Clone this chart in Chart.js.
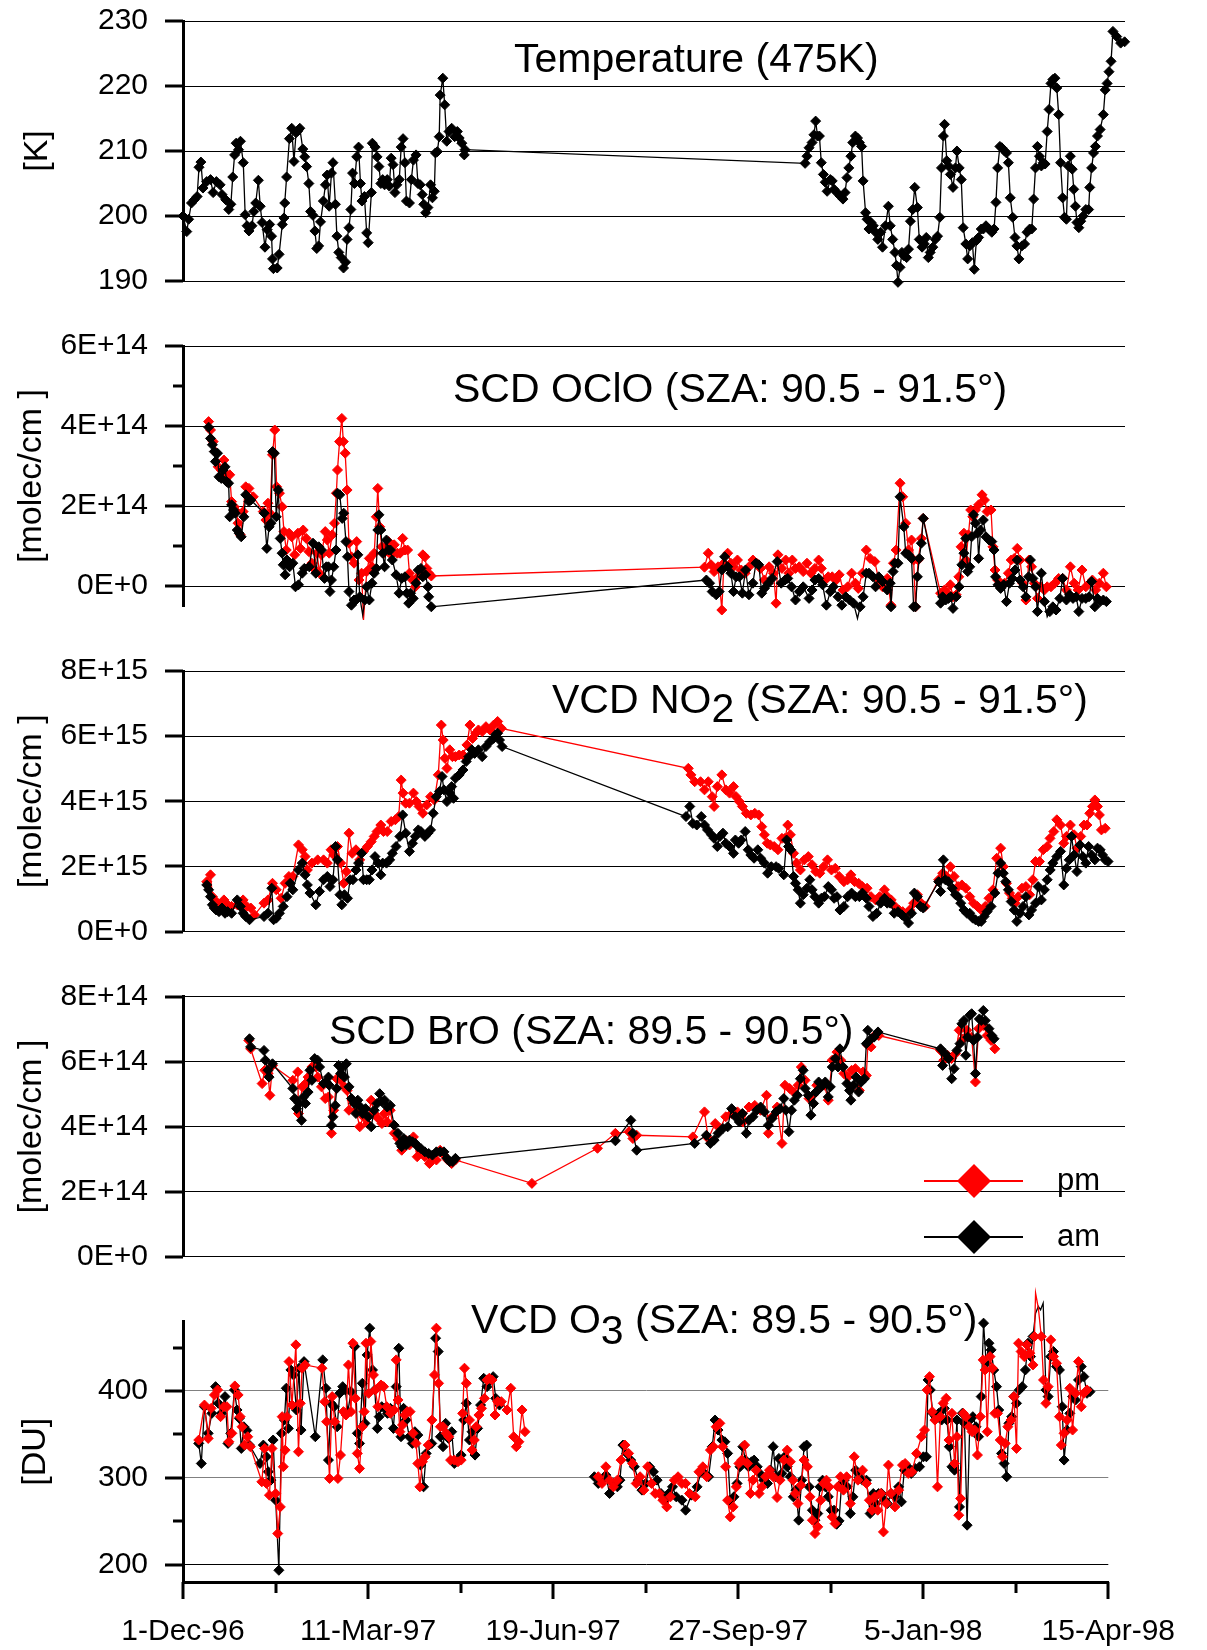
<!DOCTYPE html>
<html>
<head>
<meta charset="utf-8">
<script src="https://cdn.jsdelivr.net/npm/chart.js@4.4.1/dist/chart.umd.min.js"></script>
<style>
html, body { margin: 0; padding: 0; background: #fff; }
#wrap { position: relative; width: 1207px; height: 1650px; }
#wrap canvas { position: absolute; left: 0; top: 0; }
</style>
</head>
<body>
<div id="wrap">
<canvas id="c1" width="1207" height="1650"></canvas>
<canvas id="c2" width="1207" height="1650"></canvas>
<canvas id="c3" width="1207" height="1650"></canvas>
<canvas id="c4" width="1207" height="1650"></canvas>
<canvas id="c5" width="1207" height="1650"></canvas>
</div>
<script>
// x = days since 1-Dec-96
var xTickDays = [0, 100, 200, 300, 400, 500];
var xTickLabels = ['1-Dec-96', '11-Mar-97', '19-Jun-97', '27-Sep-97', '5-Jan-98', '15-Apr-98'];

// Temperature at 475K [K]
var temp475 = [[0,200],[2,197.6],[3,199.5],[4.5,202],[6,202.5],[7.5,203],[8.5,207.5],[9.5,208.3],[10.6,204.3],[12.6,205.3],[14.6,205.6],[16,203.6],[17.7,205.3],[19.7,204.8],[20.7,203.3],[22.7,202.5],[24.3,201],[25.4,201.8],[26.4,206],[27.4,209.4],[28.2,211.2],[29.5,210.2],[30.5,211.5],[32,208.2],[33,200.2],[34,198.5],[35,197.7],[36.6,198.5],[37.6,200.7],[38.6,202],[40,205.5],[41,201.5],[42,199],[43.5,195.2],[44.7,197.9],[46,198.7],[47,196.9],[47.5,193.4],[48,191.9],[50,192],[51,194.1],[52.7,198.7],[53.6,199.7],[54,202],[55,206],[56.5,211.9],[57.7,213.5],[58.9,208.4],[60,212.8],[61,213.1],[62,213.5],[63.6,210.3],[64.6,209.1],[65.6,207.6],[66.8,205],[67.7,200.7],[69,200.1],[70,197.7],[71,195],[72,195.4],[73,199.1],[74.5,202.3],[75.6,204.8],[76.5,206.3],[77.6,201.5],[78.8,206.6],[79.6,208.2],[80.9,201.8],[81.7,196.9],[82.7,194.4],[84,193.6],[85.2,192],[86.3,192.9],[87.1,196.4],[88.1,198.2],[89.1,201],[90,206.6],[91,205],[92.2,209.1],[93.2,210.6],[94.2,205],[95,202.3],[96.3,203],[97.5,197.4],[98.3,195.9],[100,203.6],[100.5,211.2],[102,210.6],[103,209.1],[104,207.6],[105,205],[106,205.6],[107,204.8],[108.4,205.6],[109.5,204.6],[110.5,208.9],[111.5,207.9],[112.5,203.6],[113.5,204.8],[114.8,205.6],[115.8,210.6],[116.8,211.9],[117.8,208.2],[118.6,202.3],[120.2,202],[121.2,205.6],[122.3,208.6],[123.7,209.4],[124.7,205],[125.9,204.8],[127,203.3],[127.8,201.8],[128.8,200.5],[130,201.3],[131.4,204.8],[132.4,202.8],[133.4,203.8],[134,209.7],[135,209.9],[136,212.2],[136.5,218.6],[137.9,221.2],[138.9,217.1],[140,211.5],[141.2,213],[142.6,213.5],[144.2,212.2],[145.6,213],[146.6,212],[148,211.2],[149.3,209.4],[149.7,210.2],
  [330.2,208.1],[331.2,209.2],[332.3,210.5],[333.9,211.3],[334.9,212.5],[335.8,214.6],[336.8,212.3],[337.8,212.3],[338.8,208.2],[339.9,206.4],[340.9,205.2],[341.9,203.8],[343.6,205.6],[344.6,205.4],[345.6,204.1],[347.1,203.6],[348.7,203.1],[350.3,202.6],[351.4,203.6],[352.4,205.9],[353.4,207.4],[354.5,209.2],[355.5,211.3],[356.9,212.3],[358,212],[359,211.3],[360.2,210.7],[361,205.4],[362.3,200.5],[363.1,199.5],[364.1,198],[365.2,199],[366.4,198.5],[367.6,197.5],[368.8,196.4],[370.3,197.5],[371.3,195.2],[372.9,198.5],[374.4,201.5],[375.4,198.5],[376.7,196.4],[377.9,194.4],[378.7,192.4],[379.5,189.8],[380.6,192.1],[381.6,194.4],[382.6,193.9],[384.1,193.6],[385.1,194.9],[386.1,199.2],[387.3,201],[388.4,204.4],[389.8,201.3],[390.8,196.4],[392.3,195.2],[393.5,195.7],[394.5,196.7],[395.6,193.6],[396.6,194.4],[398,195.2],[399.3,196.4],[400.5,196.9],[401.7,199.8],[402.6,207.4],[403.6,212.3],[404.2,214.1],[405.4,208.5],[406.3,207.7],[407.3,206.4],[408.7,204.4],[410,207.4],[410.8,210],[412,207.4],[413.1,205.6],[414.1,198.2],[415.5,195.7],[416.5,193.4],[417.6,195.4],[419,195.9],[420,191.8],[421.1,196.2],[422.3,196.7],[423.7,198],[424.8,198],[426.2,198.5],[427.8,198],[429.3,197.5],[430.5,198],[431.5,202.1],[432.4,207.4],[433.6,210.7],[434.6,210.5],[436.1,210],[437.1,209.7],[438.1,208.2],[439.1,202.8],[440.4,199.8],[441.6,196.7],[442.6,195.4],[443.7,193.4],[445.3,195.4],[446.7,195.7],[448,197.5],[449.4,198],[450.5,198],[451.5,202.6],[452.5,207.4],[453.5,210.7],[454.6,209.2],[455.6,207.7],[456.6,208.2],[457.6,208],[458.7,213],[459.7,216.4],[460.7,220.4],[461.7,221],[462.8,221.2],[463.8,219.7],[464.8,215.6],[465.8,208.2],[466.9,202.8],[467.9,199.8],[468.9,199.5],[469.9,207.7],[471,209.2],[472,207.2],[472.8,204.1],[473.7,201.5],[474.5,199],[475.5,198.2],[476.5,199.2],[477.8,200],[479.2,201],[480.7,201],[481.3,204.4],[482.3,207.4],[483.3,209.7],[484.3,210.7],[485.4,212.3],[486.8,213.3],[488.5,215.6],[489.5,219.4],[490.5,220.4],[491.5,222.2],[492.6,223.8],[493.6,228.4],[495.6,227.6],[497.7,226.6],[499.8,226.8]];

// SCD OClO, units of 1E+14 molec/cm2
var ocloAm = [[13.6,3.97],[14.6,3.69],[15.6,3.53],[16.6,3.36],[17.2,3.11],[18.3,3.32],[19.1,2.73],[20.3,2.69],[21.3,2.9],[22.3,2.98],[23.1,2.61],[24.2,2.57],[24.8,1.73],[25.8,2.03],[26.8,1.9],[27.8,1.82],[28.8,1.4],[29.8,1.32],[30.9,1.23],[32.3,1.73],[33.3,2.28],[35,2.11],[36,2.15],[43.1,1.82],[44.5,0.94],[45.7,1.48],[46.7,1.57],[47.5,3.36],[48.5,3.32],[49.5,1.73],[50.6,2.4],[51.6,1.19],[52.6,0.82],[53.2,0.53],[54.2,0.28],[55.2,0.65],[56.6,0.48],[58.3,0.57],[59.7,-0.02],[61.3,0.03],[63.3,0.32],[64.4,0.44],[67,0.48],[69,1.07],[70.5,0.32],[72.1,0.98],[73.5,0.9],[75.1,0.19],[76.1,0.48],[77.2,0.48],[78,-0.14],[78.8,0.15],[80,0.48],[81.2,0.9],[82,2.32],[83.2,2.28],[84.5,1.69],[85.3,1.82],[86.5,1.11],[87.3,0.73],[88.1,-0.14],[89.4,-0.48],[90.8,-0.35],[91.8,-0.35],[92.8,0.78],[93.8,-0.27],[95.4,-0.73],[96.5,-0.35],[97.5,-0.02],[98.9,-0.35],[100.3,0.07],[101.5,0.32],[102.6,0.44],[103.4,1.4],[104,1.78],[105,1.4],[106,0.82],[107,0.48],[108,1.15],[109.1,0.9],[110.1,0.9],[111.1,0.65],[113.1,0.28],[114.7,-0.18],[116.1,0.19],[117.8,0.23],[118.8,-0.18],[119.8,-0.43],[120.8,-0.18],[122.2,-0.31],[123.7,0.07],[124.9,0.4],[126.3,0.44],[127.3,0.23],[128.7,0.28],[130,-0.02],[130.4,-0.27],[131.8,-0.52],
  [277.8,0.15],[279.5,0.07],[280.9,-0.14],[283,-0.22],[284.6,-0.14],[286,0.4],[287.5,0.73],[289.1,0.48],[290.8,0.32],[292.2,-0.14],[293.6,0.23],[295.3,0.23],[296.9,-0.18],[298.6,0.4],[300.4,-0.22],[302.5,0.07],[304.1,0.57],[305.6,0.53],[307.2,-0.18],[308.6,-0.06],[310.7,0.07],[312.7,0.19],[315.4,0.61],[317.5,0.07],[319.5,0.15],[321,0.19],[323,-0.02],[325.1,-0.35],[327.1,-0.14],[329.2,-0.02],[332.3,-0.31],[333.9,-0.1],[335.4,0.15],[337.4,0.19],[339.5,0.03],[341.5,-0.48],[343.6,-0.14],[345.2,-0.02],[347.7,-0.27],[349.7,-0.48],[351.8,-0.27],[353.8,-0.35],[355.9,-0.43],[358,-0.81],[359.4,-0.52],[361,-0.27],[362.7,0.32],[364.1,0.32],[366.2,0.23],[367.6,-0.02],[369.3,0.23],[371.3,0.11],[373.8,-0.1],[375.4,0.07],[375.8,-0.52],[376.9,0.36],[377.9,0.57],[379.5,0.57],[380.6,2.23],[382.6,1.48],[383.6,0.82],[385.1,0.78],[386.7,0.69],[387.8,-0.52],[388.8,-0.52],[389.8,0.23],[390.8,0.69],[391.9,1.07],[392.9,1.69],[402.1,-0.43],[403.2,-0.27],[404.8,-0.35],[406.3,-0.31],[407.5,-0.27],[408.7,-0.56],[410.4,-0.27],[412,-0.02],[413.4,0.53],[414.5,0.82],[415.5,1.19],[416.5,0.36],[417.6,0.48],[418.6,1.23],[419.6,1.78],[420.6,1.57],[421.7,1.32],[422.3,0.69],[423.3,1.4],[424.8,1.65],[426.2,1.23],[427.8,1.15],[429.3,1.11],[430.5,0.9],[431.3,0.23],[432.6,0.03],[434,-0.06],[435.6,0.03],[437.1,-0.39],[438.7,0.07],[440.2,0.19],[441.6,0.4],[442.8,0.65],[444.3,0.15],[445.9,-0.02],[447.4,-0.27],[448.8,0.23],[449.8,0.65],[451.1,0.19],[452.5,-0.02],[453.5,-0.64],[455.6,0.32],[457.2,-0.39],[458.7,-0.77],[460.1,-0.64],[461.7,-0.52],[463.4,-0.6],[465.4,-0.31],[466.9,0.19],[468.9,-0.35],[470.6,-0.22],[472.4,-0.31],[474.1,-0.27],[475.5,-0.64],[477.2,-0.31],[479.2,-0.31],[480.9,-0.27],[482.3,0.11],[484,-0.52],[485.4,-0.31],[486.8,-0.39],[488.5,-0.35],[490.1,-0.39]];
var ocloPm = [[13.6,4.11],[14.6,3.9],[16,3.61],[17,3.36],[18.7,2.98],[20.3,2.9],[21.7,3.15],[23.1,2.78],[24.8,2.78],[25.8,2.11],[27.2,1.98],[28.4,1.86],[29.2,1.57],[30.4,1.28],[31.9,1.86],[33.3,2.48],[35,2.44],[37.3,2.23],[42.6,1.86],[44,1.65],[45.1,2.07],[46.1,1.82],[47.5,3.28],[48.7,3.9],[49.7,2.48],[51.2,2.32],[52.6,1.98],[53.6,1.36],[54.8,0.9],[56.3,1.32],[57.7,1.23],[59.3,0.78],[61,1.32],[62.3,0.94],[63.8,1.4],[65.4,1.19],[66.8,0.86],[68.4,0.57],[69.4,0.44],[71.1,0.82],[72.5,0.32],[73.5,0.78],[75.5,1.36],[76.6,1.15],[77.6,0.82],[79.2,1.28],[80.4,1.57],[81.4,2.32],[82,2.9],[83.1,3.61],[84.3,4.19],[85.1,3.61],[86.1,3.32],[87.1,2.4],[88.1,1.07],[89.4,0.73],[90.8,0.57],[92.2,1.11],[93.4,0.15],[94.8,0.32],[95.8,-0.85],[97.5,0.36],[98.9,0.69],[100.3,0.48],[101.5,0.82],[102.6,1.73],[103.4,2.44],[104.4,1.48],[105.5,0.98],[106.6,0.82],[108,0.98],[109.1,1.11],[110.5,0.78],[112.1,1.03],[113.8,0.82],[115.2,0.82],[116.6,1.19],[117.8,0.9],[119.2,0.9],[120.2,0.32],[121.8,0.15],[123.3,-0.02],[124.7,0.23],[126.3,0.32],[127.3,0.78],[128.4,0.73],[129.4,0.44],[130.4,0.32],[131.8,0.25],
  [276.8,0.47],[278.8,0.82],[280.3,0.53],[281.9,0.36],[284,0.48],[286,-0.6],[287.1,0.57],[289.1,0.82],[290.8,0.57],[292.2,0.48],[294.3,0.65],[296.3,0.4],[298.4,0.32],[300.4,0.48],[302.5,0.65],[304.5,0.57],[306.6,0.44],[308.6,0.15],[311.1,0.48],[313.4,0.32],[314.8,-0.43],[315.8,0.78],[317.9,0.44],[319.9,0.65],[321.6,0.32],[323.4,0.65],[325.1,0.44],[327.1,0.48],[329.2,0.36],[331.2,0.57],[333.3,0.32],[335.4,0.44],[337.4,0.65],[338.8,0.44],[340.9,0.15],[342.5,0.23],[344.6,0.23],[346.7,0.15],[348.3,0.28],[350.4,-0.1],[352.8,-0.02],[354.9,0.32],[356.9,0.07],[358.4,-0.06],[360.6,0.32],[362.7,0.9],[364.7,0.69],[367.2,0.61],[369.3,0.15],[371.3,-0.02],[373.8,0.19],[375.8,-0.48],[377.1,0.57],[378.5,0.9],[380.6,2.57],[382,2.23],[383.6,1.57],[385.1,0.9],[386.7,1.15],[387.8,0.65],[388.8,-0.52],[390.2,0.65],[391.9,1.19],[392.9,1.69],[402.1,-0.18],[404.2,-0.1],[405.8,-0.18],[407.3,0.03],[408.7,-0.27],[410.4,-0.22],[411.8,0.23],[413,0.98],[414.5,1.32],[415.5,0.65],[416.9,1.28],[418.1,1.9],[419.2,1.73],[420.6,1.9],[422.3,2.03],[424.1,2.28],[425.4,2.15],[426.8,1.86],[428.9,1.9],[429.9,0.98],[431,0.4],[432.4,0.15],[434,-0.02],[436.1,0.07],[438.1,0.32],[439.6,0.65],[441.2,0.69],[442.8,0.94],[444.3,0.65],[445.7,0.07],[447.4,-0.35],[449,0.65],[450.4,0.48],[451.9,0.07],[453.5,-0.31],[455.2,-0.02],[457.2,-0.1],[458.7,-0.02],[460.7,-0.02],[462.8,0.07],[464.8,0.19],[466.9,0.19],[468.9,-0.1],[471,0.48],[473,0.07],[475.1,-0.1],[477.2,0.4],[479.2,-0.02],[481.3,0.07],[482.7,0.15],[484.4,-0.1],[486.4,0.07],[488.5,0.32],[490.1,-0.02]];

// VCD NO2, units of 1E+15 molec/cm2
var no2Am = [[12.6,1.43],[13.6,1.28],[14.6,1.07],[15.6,0.82],[16.6,0.72],[17.6,0.66],[19.1,0.61],[20.7,0.72],[22.3,0.56],[23.7,0.61],[25.8,0.56],[28.8,0.97],[30.4,0.77],[31.9,0.56],[33.3,0.46],[35.3,0.36],[43,0.46],[45.1,0.56],[47.1,1.33],[48.1,0.36],[49.5,0.41],[51.2,0.56],[53.2,0.77],[55.2,1.07],[56.9,1.48],[58.3,1.28],[61.3,1.89],[63.3,2.1],[64.8,1.74],[66,1.43],[67.4,1.18],[70.5,0.82],[72.5,1.23],[74.6,1.59],[76.6,1.69],[78,1.38],[79.6,1.59],[81,2.61],[82,2.2],[83.3,1.13],[84.3,0.82],[85.7,1.13],[87.3,1.02],[88.7,1.59],[90.2,1.59],[91.8,1.89],[93.2,2.1],[94.8,2.4],[95.8,1.59],[97.5,1.59],[98.9,1.59],[100.3,1.89],[101.9,2.3],[103.6,2.1],[105,1.74],[106,2.1],[108,2.1],[109.7,2.2],[111.1,2.4],[113.1,2.61],[115.1,2.92],[116.6,3.58],[118.2,3.02],[120.2,2.46],[121.8,2.71],[123.3,2.92],[124.9,3.12],[126.3,3.07],[128.4,2.92],[130,3.02],[131.4,3.12],[132.8,3.63],[134.4,4.14],[136.1,4.3],[137.5,4.76],[138.5,4.35],[140.1,3.99],[141.6,4.25],[142.6,4.45],[143.6,4.09],[144.6,4.71],[146.6,4.81],[148.6,4.96],[150.3,5.22],[151.7,5.37],[153.3,5.58],[154.8,5.47],[156.8,5.58],[158.8,5.37],[160.8,5.68],[162.9,5.83],[164.9,5.93],[165.9,6.04],[167,6.09],[168,5.88],[169.4,5.68],
  [267,3.53],[269,3.84],[270.6,3.32],[272.7,3.27],[275.1,3.53],[276.8,3.27],[278.4,3.12],[280.5,2.97],[281.9,2.86],[283.6,2.61],[285,2.92],[286.6,3.02],[288.1,2.71],[290.1,2.61],[292.2,2.4],[293.2,2.81],[294.9,2.71],[296.3,2.81],[298.4,3.07],[300,2.51],[301.4,2.35],[303.1,2.25],[305.1,2.51],[306.6,2.25],[308.6,2.1],[310.3,1.79],[312.3,1.99],[314.8,1.99],[316.2,1.94],[318.9,1.74],[320.4,2.81],[321.4,2.61],[322.6,2.51],[324.1,1.69],[325.1,1.48],[326.5,1.28],[327.7,0.87],[329.2,1.13],[331.2,1.33],[332.7,1.59],[333.9,1.28],[335.4,1.07],[337.4,0.87],[338.8,1.02],[340.5,1.07],[342.5,1.38],[344.2,1.28],[345.6,1.02],[347.1,1.07],[348.7,0.66],[350.8,0.77],[352.8,1.07],[354.9,1.18],[356.9,1.07],[359,1.07],[360.6,1.18],[362.7,1.02],[364.1,0.77],[366.2,0.46],[368.2,0.56],[370.3,0.87],[372.3,1.02],[373.8,0.87],[375.4,0.87],[377.5,0.56],[379.5,0.61],[381.6,0.51],[383.6,0.41],[385.1,0.26],[386.7,0.56],[388.2,1.18],[389.8,1.07],[391.5,0.77],[392.9,0.72],[401.1,1.53],[402.1,1.23],[403.6,2.2],[404.6,1.59],[406.3,1.53],[408.3,1.33],[410,1.13],[411.4,1.07],[412.8,0.87],[414.5,0.66],[416.1,0.56],[417.6,0.56],[419.2,0.41],[420.6,0.36],[422.3,0.31],[423.7,0.31],[425.2,0.46],[426.8,0.61],[428.9,0.77],[430.9,1.18],[432.6,1.79],[434,2.1],[435.4,1.79],[436.7,1.53],[438.1,1.28],[439.6,0.92],[441.2,0.66],[442.6,0.31],[444.3,0.56],[445.9,0.77],[447.4,1.07],[449,0.51],[450.4,0.66],[452.5,0.87],[453.9,1.38],[455.6,0.97],[457.2,1.28],[458.7,1.59],[460.3,1.89],[461.7,2.1],[463.8,2.3],[465.8,2.46],[467.5,1.43],[468.9,1.94],[470.4,2.2],[471.6,2.92],[473,2.35],[474.5,1.84],[476.1,2.66],[477.6,2.3],[479.2,2.1],[480.7,2.61],[482.3,2.35],[484,2.2],[485.4,2.56],[486.8,2.51],[488.1,2.35],[489.5,2.2],[491,2.15]];
var no2Pm = [[12.6,1.53],[14.6,1.74],[15.6,1.07],[17.6,0.92],[19.6,0.77],[21.7,0.97],[23.7,0.82],[25.8,0.77],[28.8,0.82],[31.9,0.97],[33.9,0.77],[36,0.72],[38,0.51],[43,0.87],[45.1,0.97],[47.5,1.48],[49.5,1.28],[52.1,1.02],[54.2,1.48],[56.2,1.69],[58.3,1.69],[61.3,2.66],[63.3,2.51],[64.8,2.3],[66,1.89],[68.4,2.1],[71.5,2.2],[74.6,2.2],[76.6,2.1],[78.6,2.51],[80,2.35],[82,2.61],[83.7,2.1],[85.3,1.48],[86.7,1.84],[88.1,3.02],[89.8,2.4],[91.8,2.51],[93.8,2.2],[95.8,2.46],[97.9,2.61],[99.9,2.76],[101.5,2.92],[103,3.07],[105,3.27],[106.4,3.07],[108.4,3.07],[110.5,3.38],[112.7,3.43],[114.5,3.53],[115.8,4.65],[116.8,4.25],[118.2,3.94],[120.2,3.94],[122.3,4.25],[123.9,3.99],[125.3,3.84],[127.3,3.63],[129.4,3.89],[131.4,4.14],[133.4,4.04],[135.5,4.81],[137.1,6.34],[138.1,5.88],[139,5.32],[140.1,5.01],[141.6,5.58],[143,5.37],[144.6,5.37],[146.6,5.42],[148.6,5.42],[150.7,5.73],[152.3,6.34],[153.7,5.93],[155.4,6.09],[156.8,6.19],[158.8,6.14],[160.8,6.29],[162.9,6.19],[164.9,6.34],[167,6.45],[169,6.24],
  [268.2,5.01],[269.6,4.81],[271.6,4.6],[274.7,4.6],[276.8,4.35],[278.8,4.6],[280.9,4.14],[281.9,3.84],[283.6,4.45],[286,4.81],[288.1,4.35],[290.1,4.25],[292.2,4.45],[293.6,4.14],[295.3,3.99],[296.9,3.84],[299,3.63],[301.4,3.58],[303.5,3.63],[305.6,3.58],[307.2,3.22],[308.6,2.97],[310.1,2.71],[311.7,2.66],[313.8,2.61],[315.8,2.51],[317.9,2.86],[319.5,2.86],[321,3.27],[322.4,2.97],[324.1,2.4],[325.7,2.1],[327.7,1.89],[329.8,2.2],[331.9,2.3],[333.9,2.05],[335.9,1.84],[338,1.79],[340,1.99],[342.1,2.2],[344.2,1.89],[346.2,1.94],[348.3,1.69],[350.8,1.53],[352.8,1.59],[354.5,1.74],[356.5,1.53],[358.6,1.48],[360.6,1.38],[363.1,1.33],[365.2,1.07],[367.6,0.97],[369.7,1.07],[372.3,1.28],[373.8,1.07],[375.9,0.97],[377.9,0.77],[380,0.66],[382,0.61],[384.1,0.56],[385.7,0.66],[387.8,0.87],[389.8,1.13],[391.9,0.87],[393.9,0.77],[401.1,1.59],[403.2,1.79],[405.2,1.69],[407.3,1.99],[409.3,1.69],[411.4,1.38],[413.4,1.43],[415.5,1.33],[417.6,1.07],[419.6,0.87],[421.7,0.77],[423.7,0.66],[425.8,0.77],[427.8,1.02],[429.9,1.28],[431.9,2.25],[434,2.56],[435.4,1.99],[437.1,1.48],[438.7,1.18],[440.2,1.02],[441.6,0.87],[443.3,1.07],[445.3,1.33],[447.4,1.38],[449.4,1.13],[451.1,1.59],[452.5,2.15],[454.6,2.15],[456.6,2.51],[458.7,2.61],[460.2,2.86],[462.2,3.07],[463.8,3.43],[465.8,3.27],[467.5,2.71],[468.9,2.92],[471,3.27],[473,2.97],[474.5,2.56],[476.5,2.92],[478.2,3.27],[479.8,3.27],[481.3,3.63],[482.7,3.84],[484,4.04],[485.4,3.84],[486.4,3.58],[487.5,3.12],[489.5,3.17]];

// SCD BrO, units of 1E+14 molec/cm2
var broAm = [[35.3,6.7],[35.9,6.45],[43,6.34],[43.7,6.04],[45.1,5.73],[45.7,5.52],[47.5,5.93],[58.3,5.17],[59.3,4.86],[60.3,4.55],[61.7,4.71],[62.9,4.19],[64,4.91],[65,4.71],[66.4,5.06],[67.4,5.73],[68.4,5.42],[69.9,6.09],[71.5,6.04],[72.5,5.83],[74.6,5.32],[76,5.37],[77.2,5.52],[77.6,5.27],[78.8,4.04],[79.6,4.3],[80.8,4.65],[81.6,5.17],[82.6,5.88],[83.7,5.63],[84.7,5.83],[85.7,5.52],[86.7,5.93],[88.1,5.22],[89.4,4.86],[90.8,4.71],[91.8,4.4],[92.8,4.81],[94.2,4.6],[95.4,4.4],[96.9,4.55],[98.3,4.3],[99.9,3.99],[101.5,4.5],[103,4.71],[104.4,5.01],[105.6,4.76],[107,4.81],[108.4,4.6],[110,4.65],[112.1,4.04],[114.1,3.79],[115.1,3.48],[116.1,3.38],[117.2,3.63],[118.6,3.43],[120.2,3.58],[121.8,3.53],[123.3,3.48],[124.7,3.38],[126.3,3.32],[128.4,3.22],[130.4,3.17],[132.4,3.12],[134.5,3.22],[136.5,3.22],[138.5,3.22],[140.1,3.02],[141.6,2.92],[143.2,2.92],[144.6,3.02],
  [229.5,3.56],[237.7,4.19],[238.8,3.79],[240.8,3.27],[271.6,3.48],[277.8,3.73],[279.9,3.48],[281.9,3.58],[284,3.79],[286.6,3.94],[289.1,3.99],[291.2,4.55],[293.2,4.3],[295.3,4.14],[296.9,4.4],[299,3.79],[300.4,4.19],[302.5,4.3],[304.5,4.5],[306.6,4.6],[308.6,4.45],[310.7,4.04],[312.7,4.25],[314.8,4.45],[316.9,4.55],[318.9,4.86],[320,4.5],[321.6,3.84],[323,4.5],[324.5,4.81],[326.1,4.96],[327.7,5.47],[329.2,5.73],[330.2,5.17],[331.9,4.96],[333.3,4.35],[334.7,4.71],[336,5.06],[337.4,5.37],[338.8,5.22],[340.9,5.37],[342.5,4.91],[343.6,5.22],[344.6,5.83],[346.2,6.09],[347.7,5.83],[348.7,6.39],[350.4,5.83],[352.4,5.32],[353.8,5.11],[354.5,4.81],[355.9,5.27],[357.3,5.52],[358.6,5.06],[360,5.37],[361.7,5.47],[362.7,6.55],[363.5,6.96],[365.2,6.7],[366.8,6.75],[368.9,6.91],[402.1,6.39],[403.2,5.88],[404.6,6.24],[406.3,6.09],[408,5.47],[409.3,5.78],[410.8,6.34],[412.4,6.55],[413.4,7.16],[414.5,7.26],[415.5,6.19],[416.5,6.75],[417.6,7.42],[418.6,7.47],[419.6,6.65],[420.6,5.63],[421.7,6.75],[422.7,7.31],[423.7,7.26],[424.8,7.57],[425.8,7.26],[427.8,7.01],[429.3,6.8],[430.5,6.7]];
var broPm = [[34.9,6.65],[35.9,6.39],[42,5.32],[43.4,5.73],[45.1,5.63],[46.1,4.96],[47.5,5.88],[58.3,5.42],[60.9,5.68],[61.3,4.4],[63.3,5.22],[65,5.32],[66.4,5.52],[68.4,5.83],[70.5,5.83],[71.5,5.52],[73.5,5.22],[75.5,4.86],[77.2,4.91],[78.8,3.79],[80,4.5],[81.6,5.47],[83.7,5.42],[85.7,5.22],[87.1,5.11],[88.1,4.5],[89.8,4.81],[91.8,4.5],[93.8,3.99],[95.8,4.3],[97.9,4.09],[99.9,4.81],[101.5,4.4],[103.6,4.25],[105.6,4.09],[107,4.4],[108.4,4.14],[110,4.5],[112.1,3.79],[114.1,3.63],[116.1,3.27],[118.2,3.58],[120.2,3.43],[122.3,3.68],[124.3,3.07],[126.3,3.22],[128.4,3.07],[130.8,2.86],[132.4,3.02],[134.5,2.97],[136.5,3.27],[138.5,3.12],[140.5,2.97],[142.6,2.86],[144.6,2.97],
  [185.2,2.25],[220,3.33],[229.5,3.79],[236.7,3.84],[238.8,3.63],[240.8,3.73],[270.6,3.68],[276.8,4.45],[278.8,3.63],[282.5,4.09],[285,3.94],[288.1,4.3],[291.2,4.4],[294.3,4.45],[297.3,4.14],[300.4,4.6],[303.5,4.65],[306.6,4.5],[309.7,4.96],[310.7,3.79],[312.7,4.3],[315.4,4.6],[317.9,3.48],[319.5,5.27],[322,5.17],[324.1,5.06],[326.5,5.27],[328.2,5.83],[330.2,5.42],[332.3,4.86],[334.3,4.96],[336.4,5.27],[338.4,5.22],[340.5,5.27],[342.5,4.81],[344.6,6.04],[347.1,6.29],[349.1,6.04],[350.8,5.63],[352.8,5.52],[354.9,5.73],[356.9,5.78],[359,5.11],[361,5.68],[362.7,5.57],[363.5,6.5],[365.2,6.45],[367.2,6.8],[369.3,6.8],[402.1,6.34],[403.8,6.04],[405.8,6.19],[407.9,6.09],[410,6.24],[412,6.96],[414.1,6.7],[416.1,6.96],[418.6,6.75],[420.6,5.37],[422.3,7.01],[424.8,7.11],[426.8,6.8],[428.9,6.65],[430.9,6.39]];

// VCD O3 [DU]; null = no data (line break)
var o3Am = [[8.5,339.6],[9.9,316.5],[11.6,381.9],[13.6,351.2],[15.6,374.2],[17.6,405],[19.1,385.8],[20.7,374.2],[22.7,393.5],[24.3,339.6],[25.8,351.2],[27.8,401.2],[29.2,378.1],[30.4,368.5],[31.5,333.8],[32.9,358.8],[34.5,354.6],[35.9,337.7],[41.6,316.5],[43.4,337.7],[45.1,324.2],[46.1,306.9],[47.5,297.3],[48.7,343.5],[50.1,274.2],[51.8,193.5],[53.2,351.2],[54.8,366.5],[55.8,403.1],[56.9,356.9],[58.3,424.2],[59.7,418.5],[61.3,378.1],[62.7,426.2],[63.8,355],[65.4,433.8],[71.5,347.3],[75.5,435.8],[77.2,403.1],[78.6,320.4],[80,385.8],[81.6,381.9],[83.3,358.8],[84.7,397.3],[86.3,405],[87.7,401.2],[89.1,376.2],[90.8,399.2],[92.8,451.2],[94.2,351.2],[95.4,339.6],[96.9,408.8],[98.3,362.7],[99.5,441.5],[100.9,472.3],[102.4,424.2],[103.6,401.2],[105,356.9],[106,370.4],[107.4,381.9],[109,380],[110.5,374.2],[112.1,380],[113.7,356.9],[115.2,405],[116.6,449.2],[117.8,347.3],[119.2,380],[120.6,366.5],[122.3,347.3],[123.9,339.6],[125.3,353.1],[126.9,349.2],[128.4,314.6],[130,289.6],[131.4,328.1],[133,337.7],[134.4,339.6],[136.5,460.8],[137.9,445.4],[139.1,347.3],[140.5,335.8],[141.9,362.7],[143.5,345.4],[145.2,353.1],[146.6,316.5],[148.6,320.4],[150.3,326.2],[151.7,366.5],[153.1,385.8],[154.8,343.5],[156.2,353.1],[157.8,326.2],[159.2,356.9],[160.8,383.8],[162.5,414.6],[164.3,405],[166,412.7],[167.6,416.5],[169,391.5],[171,383.8],
  [200,null],
  [222.3,301.2],[224.4,293.5],[226.4,297.3],[228.5,303.1],[230.5,281.9],[232.6,293.5],[234.7,289.6],[236.1,297.3],[237.7,337.7],[239.8,328.1],[241.9,320.4],[243.9,312.7],[246,297.3],[248,285.8],[250.1,293.5],[252.1,312.7],[254.2,306.9],[256.2,297.3],[258.3,281.9],[260.3,274.2],[262.4,281.9],[264.5,289.6],[266.5,278.1],[269.6,274.2],[271.6,262.7],[274.7,280],[277.8,289.6],[279.9,306.9],[281.9,305],[284,301.2],[286,335.8],[287.5,366.5],[289.1,355],[291.2,343.5],[292.8,341.5],[294.3,328.1],[295.7,274.2],[297.7,278.1],[299.4,293.5],[301,312.7],[302.5,335.8],[303.9,320.4],[305.6,312.7],[307.2,318.5],[308.6,320.4],[310.3,312.7],[311.7,305],[313.8,297.3],[315.8,293.5],[317.5,308.8],[318.9,335.8],[320.4,301.2],[322,322.3],[323.6,305],[325.1,324.2],[326.5,312.7],[328.2,301.2],[329.8,278.1],[331.2,285.8],[332.7,251.2],[334.3,297.3],[335.6,335.8],[337,337.7],[338.4,289.6],[340.1,262.7],[341.5,251.2],[343,258.8],[344.2,289.6],[345.6,297.3],[347.1,289.6],[348.7,278.1],[350.3,262.7],[351.8,262.7],[353.2,246.5],[354.5,250.4],[355.9,293.5],[357.3,297.3],[358.9,289.6],[360.6,258.8],[362,278.1],[363.5,308.8],[365.2,305],[367.2,297.3],[369.3,297.3],[371.3,258.8],[373,281.9],[374.4,270.4],[375.9,281.9],[377.5,281.9],[379.1,274.2],[380.6,270.4],[382.6,281.9],[384.7,278.1],[386.7,289.6],[388.2,272.3],[389.8,308.8],[391.5,312.7],[393.5,305],[395.6,310.8],[398,312.7],[400.1,324.2],[401.7,324.2],[402.6,412.7],[403.8,401.2],[405.2,374.2],[406.7,370.4],[408.3,374.2],[409.9,366.5],[411.4,380],[412.8,366.5],[414.1,335.8],[415.5,312.7],[416.9,308.8],[418.2,366.5],[419.6,266.5],[421.1,374.2],[422.3,362.7],[423.7,245.4],[425.2,366.5],[426.8,370.4],[428.5,358.8],[429.9,347.3],[431.3,393.5],[432.6,478.1],[434,431.9],[435.5,455],[436.7,447.3],[438.1,424.2],[439.6,405],[440.8,378.1],[442.3,328.1],[443.7,316.5],[445.1,301.2],[446.3,362.7],[447.8,370.4],[449,393.5],[450.4,385.8],[451.9,401.2],[453.5,405],[455.2,424.2],[456.6,455],[458,439.6],[459.3,462.7],[460.7,489.6],[462.2,497.3],[463.4,493.5],[464.8,501.2],[466.3,401.2],[467.5,393.5],[468.9,439.6],[470.4,445.4],[472,428.1],[473.6,424.2],[475.1,381.9],[476.1,320.4],[477.6,355],[479.2,374.2],[480.7,393.5],[482.3,389.6],[483.9,412.7],[485.4,428.1],[486.8,416.5],[488.5,397.3],[490.1,399.2]];
var o3Pm = [[8.5,343.5],[11.6,383.8],[13.6,345.4],[15.2,380],[17,395.4],[18.7,401.2],[20.3,370.4],[22.1,381.9],[23.7,381.9],[24.8,341.5],[26.4,351.2],[28,405.8],[29.8,395.4],[30.9,370.4],[31.9,358.8],[33.3,337.7],[35,347.3],[36.4,335.8],[42.6,295.4],[44.1,333.8],[45.1,293.5],[46.7,280],[48.1,333.8],[50.1,281.9],[51.2,235.8],[52.6,266.5],[53.6,370.4],[54.2,312.7],[55.2,331.9],[56.2,370.4],[57.3,433.8],[58.9,383.8],[61,453.1],[62.4,330],[63.4,385.8],[64.4,426.2],[66,430],[75.1,426.2],[76.6,387.7],[77.6,364.6],[79.2,299.2],[80.6,393.5],[82,364.6],[83.7,299.2],[85.1,326.2],[86.7,376.2],[88.1,372.3],[89.4,430],[90.8,376.2],[91.8,455],[93.2,391.5],[94.2,328.1],[95.4,310.8],[96.9,358.8],[97.9,376.2],[98.9,455],[100.3,397.3],[101.5,456.9],[102.9,418.5],[103.9,401.2],[105.3,381.9],[107,406.9],[108.4,405],[110.1,381.9],[112.1,374.2],[114.1,378.1],[115.2,435.8],[116.2,389.6],[117.2,353.1],[118.6,360.8],[119.8,372.3],[121.2,376.2],[122.7,376.2],[124.3,351.2],[125.9,339.6],[126.9,316.5],[128,289.6],[129.4,318.5],[130.8,324.2],[132.5,337.7],[134.5,366.5],[135.9,418.5],[136.9,472.3],[138.1,408.8],[139.1,358.8],[140.5,358.8],[142.2,351.2],[143.6,347.3],[144.6,320.4],[146.6,320.4],[148.6,318.5],[150.3,320.4],[151.1,374.2],[152.1,426.2],[153.1,408.8],[154.8,366.5],[156.2,331.9],[157.4,343.5],[158.4,358.8],[159.9,372.3],[161.3,380],[162.9,391.5],[164.3,412.7],[165.5,414.6],[167,412.7],[168.6,372.3],[170,387.7],[172,387.7],[175.1,378.1],[177.1,403.1],[178.7,347.3],[180.1,335.8],[181.5,341.5],[183.2,378.1],[184.8,353.1],
  [200,null],
  [224.4,301.2],[226.4,293.5],[228.5,312.7],[230.5,297.3],[232.6,289.6],[234.7,297.3],[236.7,320.4],[238.8,337.7],[240.8,328.1],[242.9,316.5],[244.9,293.5],[247,301.2],[249,285.8],[251.1,312.7],[253.2,293.5],[255.2,281.9],[257.3,281.9],[259.3,274.2],[261.4,266.5],[263.4,278.1],[265.5,297.3],[267.5,301.2],[269.6,293.5],[271.6,293.5],[273.7,281.9],[276.8,278.1],[278.8,306.9],[280.9,312.7],[283,301.2],[285,331.9],[286.6,335.8],[288.1,358.8],[290.1,362.7],[291.6,335.8],[293.2,312.7],[294.3,274.2],[295.7,255],[297.3,266.5],[299,289.6],[300.4,316.5],[301.9,320.4],[303.5,337.7],[305.1,316.5],[306.6,281.9],[308,297.3],[309.7,308.8],[311.3,281.9],[312.8,289.6],[314.8,301.2],[316.9,308.8],[318.9,301.2],[321,277.3],[322.6,297.3],[324.7,320.4],[326.5,331.9],[328.2,318.5],[329.6,297.3],[330.8,281.9],[332.3,270.4],[333.9,291.5],[335.6,320.4],[337.4,312.7],[338.8,278.1],[340.1,251.2],[341.5,235.8],[343,243.5],[344.6,274.2],[346.2,293.5],[347.7,297.3],[349.1,289.6],[350.8,255],[352.4,247.3],[353.8,289.6],[355.3,301.2],[356.9,285.8],[358.6,301.2],[360.6,270.4],[362.7,324.2],[364.7,297.3],[367.2,308.8],[369.3,293.5],[370.9,274.2],[372.3,262.7],[373.8,278.1],[375.4,262.7],[377.1,281.9],[378.5,237.7],[380,270.4],[381.2,314.6],[382.6,281.9],[384.7,266.5],[386.7,285.8],[388.8,314.6],[390.2,316.5],[391.9,305],[393.9,306.9],[396.4,328.1],[399,347.3],[400.7,355],[402.1,401.2],[403.4,416.5],[404.8,376.2],[406.3,366.5],[407.7,289.6],[409.3,370.4],[410.8,385.8],[412.4,391.5],[413.9,343.5],[415.5,374.2],[416.9,316.5],[418.2,347.3],[419.2,256.9],[420.2,276.2],[421.7,374.2],[423.1,370.4],[424.8,358.8],[426.4,353.1],[427.8,355],[429.3,326.2],[430.9,370.4],[432.4,435.8],[433.4,424.2],[434.6,353.1],[436.1,439.6],[437.4,426.2],[438.7,374.2],[440.2,374.2],[441.6,343.5],[442.8,324.2],[444.3,339.6],[445.7,358.8],[447.4,366.5],[449,393.5],[450.4,333.8],[451.5,455],[452.9,445.4],[454.6,439.6],[456,453.1],[457.6,443.5],[459.3,430],[460.1,462.7],[460.7,512.7],[462.2,495.4],[463.8,462.7],[465,412.7],[466.3,385.8],[467.5,405],[468.9,458.8],[470.4,439.6],[472,431.9],[473.6,370.4],[474.6,337.7],[476.1,351.2],[477.8,366.5],[479.2,403.1],[480.7,355],[482.3,397.3],[483.9,433.8],[485.4,381.9],[486.8,397.3],[488.5,401.2]];

var FONT = '"Liberation Sans", Arial, sans-serif';
var RED = '#ff0000', BLACK = '#000000';
var PLOT_LEFT = 183, PLOT_RIGHT = 1125;

function pts(arr, unit) {
  return arr.map(function (p) { return { x: p[0], y: p[1] === null ? null : p[1] * unit }; });
}

function series(label, color, data) {
  return {
    label: label, data: data, borderColor: color, backgroundColor: color,
    borderWidth: 1.3, pointStyle: 'rectRot', pointRadius: 5, pointBorderWidth: 1,
    pointBackgroundColor: color, pointBorderColor: color, spanGaps: false, clip: false, tension: 0
  };
}

function range(a, b, step) {
  var out = [];
  for (var v = a; v <= b + step / 1000; v += step) out.push(v);
  return out;
}

// y tick marks (long for labelled, short for the rest) + bottom time axis ticks
function axisMarks(isMajor, withX) {
  return {
    id: 'axisMarks',
    afterDraw: function (chart) {
      var ctx = chart.ctx, ys = chart.scales.y, a = chart.chartArea;
      ctx.save();
      ctx.strokeStyle = '#000';
      ctx.lineWidth = 3;
      ys.ticks.forEach(function (t) {
        var py = Math.round(ys.getPixelForValue(t.value));
        var len = isMajor(t.value) ? 18 : 10;
        ctx.beginPath(); ctx.moveTo(a.left - len, py); ctx.lineTo(a.left, py); ctx.stroke();
      });
      if (withX) {
        var xs = chart.scales.x;
        xs.ticks.forEach(function (t) {
          var px = Math.round(xs.getPixelForValue(t.value));
          var len = t.value % 100 === 0 ? 17 : 11;
          ctx.beginPath(); ctx.moveTo(px, a.bottom); ctx.lineTo(px, a.bottom + len); ctx.stroke();
        });
      }
      ctx.restore();
    }
  };
}

// panel caption, pieces = [text, baseline shift]
function caption(pieces, x, y) {
  return {
    id: 'caption',
    afterDraw: function (chart) {
      var ctx = chart.ctx;
      ctx.save();
      ctx.font = '41px ' + FONT;
      ctx.fillStyle = '#000';
      ctx.textBaseline = 'alphabetic';
      var cx = x;
      pieces.forEach(function (p) {
        ctx.fillText(p[0], cx, y + p[1]);
        cx += ctx.measureText(p[0]).width;
      });
      ctx.restore();
    }
  };
}

var legendMarks = {
  id: 'legendMarks',
  afterDraw: function (chart) {
    var ctx = chart.ctx;
    var items = [['pm', RED, 1181, 1190], ['am', BLACK, 1237, 1246]];
    ctx.save();
    items.forEach(function (it) {
      ctx.strokeStyle = it[1]; ctx.fillStyle = it[1]; ctx.lineWidth = 2;
      ctx.beginPath(); ctx.moveTo(924, it[2]); ctx.lineTo(1023, it[2]); ctx.stroke();
      ctx.beginPath();
      ctx.moveTo(974 - 17, it[2]); ctx.lineTo(974, it[2] - 17);
      ctx.lineTo(974 + 17, it[2]); ctx.lineTo(974, it[2] + 17);
      ctx.closePath(); ctx.fill();
      ctx.fillStyle = '#000';
      ctx.font = '31px ' + FONT;
      ctx.fillText(it[0], 1057, it[3]);
    });
    ctx.restore();
  }
};

function panel(id, p) {
  var scales = {
    x: {
      type: 'linear', min: 0, max: 500, display: !!p.withX,
      afterBuildTicks: function (s) { s.ticks = range(0, 500, 50).map(function (v) { return { value: v }; }); },
      afterFit: function (s) { s.height = p.withX ? 68 : 0; },
      border: { display: true, color: '#000', width: 3 },
      grid: { display: true, drawOnChartArea: false, drawTicks: false },
      ticks: {
        autoSkip: false, maxRotation: 0, minRotation: 0, padding: 32, color: '#000',
        font: { family: FONT, size: 30 },
        callback: function (v) { var i = xTickDays.indexOf(v); return i < 0 ? '' : xTickLabels[i]; }
      }
    },
    y: {
      min: p.min, max: p.max,
      afterBuildTicks: function (s) { s.ticks = p.ticks.map(function (v) { return { value: v }; }); },
      afterFit: function (s) { s.width = PLOT_LEFT; s.paddingTop = 0; s.paddingBottom = 0; },
      border: { display: true, color: '#000', width: 3 },
      grid: {
        drawTicks: false, lineWidth: 1,
        color: function (c) { return c.tick ? p.gridColor(c.tick.value) : 'rgba(0,0,0,0)'; }
      },
      ticks: {
        padding: 35, color: '#000', font: { family: FONT, size: 30 },
        callback: function (v) { return p.isMajor(v) ? p.fmt(v) : ''; }
      },
      title: {
        display: true, text: p.yTitle, color: '#000',
        font: { family: FONT, size: 34 }, padding: { top: p.titlePad, bottom: 0 }
      }
    }
  };
  var plugins = [axisMarks(p.isMajor, p.withX), caption(p.caption[0], p.caption[1], p.caption[2])];
  if (p.legend) plugins.push(legendMarks);
  return new Chart(document.getElementById(id), {
    type: 'line',
    data: { datasets: p.datasets },
    options: {
      responsive: false, animation: false, parsing: false,
      layout: { padding: { left: 0, right: 1207 - PLOT_RIGHT, top: p.top, bottom: p.withX ? 0 : 1650 - p.bottom } },
      plugins: { legend: { display: false }, tooltip: { enabled: false } },
      scales: scales
    },
    plugins: plugins
  });
}

function sciFmt(exp) {
  return function (v) { var m = Math.round(v / Math.pow(10, exp)); return m === 0 ? '0E+0' : m + 'E+' + exp; };
}
function evenMajor(unit) {
  return function (v) { return Math.round(v / unit) % 2 === 0; };
}
function majorGrid(isMajor) {
  return function (v) { return isMajor(v) ? '#000' : 'rgba(0,0,0,0)'; };
}

var tMajor = function (v) { return Math.round(v) % 10 === 0; };
panel('c1', {
  top: 21, bottom: 281, min: 190, max: 230, ticks: range(190, 230, 5),
  isMajor: tMajor, gridColor: majorGrid(tMajor), fmt: function (v) { return String(v); },
  yTitle: '[K]', titlePad: 17,
  caption: [[['Temperature (475K)', 0]], 514, 72],
  datasets: [series('Temperature', BLACK, pts(temp475, 1))]
});

var m14 = evenMajor(1e14);
panel('c2', {
  top: 346, bottom: 606, min: -0.5e14, max: 6e14, ticks: range(0, 6e14, 1e14),
  isMajor: m14, gridColor: majorGrid(m14), fmt: sciFmt(14),
  yTitle: '[molec/cm ]', titlePad: 11,
  caption: [[['SCD OClO (SZA: 90.5 - 91.5°)', 0]], 453, 402],
  datasets: [series('am', BLACK, pts(ocloAm, 1e14)), series('pm', RED, pts(ocloPm, 1e14))]
});

var m15 = evenMajor(1e15);
panel('c3', {
  top: 671, bottom: 931.5, min: 0, max: 8e15, ticks: range(0, 8e15, 1e15),
  isMajor: m15, gridColor: majorGrid(m15), fmt: sciFmt(15),
  yTitle: '[molec/cm ]', titlePad: 11,
  caption: [[['VCD NO', 0], ['2', 9], [' (SZA: 90.5 - 91.5°)', 0]], 552, 713],
  datasets: [series('am', BLACK, pts(no2Am, 1e15)), series('pm', RED, pts(no2Pm, 1e15))]
});

panel('c4', {
  top: 996.5, bottom: 1256.5, min: 0, max: 8e14, ticks: range(0, 8e14, 1e14),
  isMajor: m14, gridColor: majorGrid(m14), fmt: sciFmt(14),
  yTitle: '[molec/cm ]', titlePad: 11, legend: true,
  caption: [[['SCD BrO (SZA: 89.5 - 90.5°)', 0]], 329, 1044],
  datasets: [series('am', BLACK, pts(broAm, 1e14)), series('pm', RED, pts(broPm, 1e14))]
});

var o3Major = function (v) { return Math.round(v) % 100 === 0; };
panel('c5', {
  top: 1321.5, min: 180, max: 480, ticks: range(200, 450, 50), withX: true,
  isMajor: o3Major,
  gridColor: function (v) { return Math.round(v) === 200 ? '#000' : (o3Major(v) ? '#808080' : 'rgba(0,0,0,0)'); },
  fmt: function (v) { return String(Math.round(v)); },
  yTitle: '[DU]', titlePad: 15,
  caption: [[['VCD O', 0], ['3', 11], [' (SZA: 89.5 - 90.5°)', 0]], 471, 1333],
  datasets: [series('pm', RED, pts(o3Pm, 1)), series('am', BLACK, pts(o3Am, 1))]
});
</script>
</body>
</html>
